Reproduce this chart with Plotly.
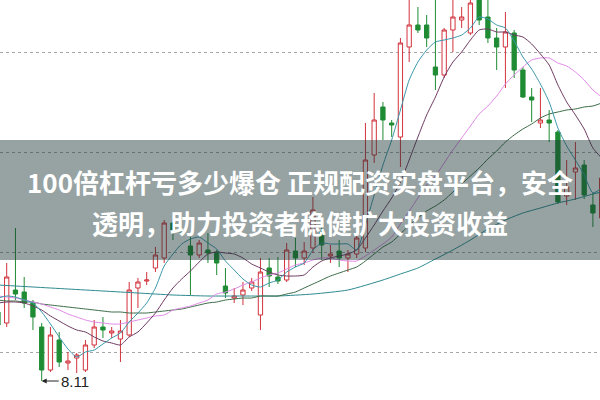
import plotly.graph_objects as go

# ---- candle data (index = trading day in view) ----
idx = list(range(70))
opens = [8.80, 8.69, 9.02, 9.00, 8.89, 8.65, 8.22, 8.52, 8.29, 8.34,
         8.22, 8.47, 8.65, 8.59, 8.53, 8.57, 9.04, 9.11, 9.24, 9.34,
         9.69, 9.62, 9.46, 9.37, 9.42, 9.40, 9.06, 8.94, 8.97, 9.04,
         8.77, 9.24, 9.15, 9.12, 9.41, 9.34, 9.44, 9.60, 9.36, 9.41,
         9.34, 9.38, 9.44, 10.37, 10.85, 10.69, 10.55, 11.45, 11.67, 11.67,
         11.25, 11.17, 11.62, 11.72, 11.59, 12.00, 11.75, 11.54, 11.45, 11.59,
         11.22, 10.95, 10.69, 10.72, 10.60, 9.96, 10.20, 10.27, 9.87, 9.74]
highs = [8.87, 9.29, 9.64, 9.15, 8.92, 8.69, 8.65, 8.60, 8.40, 8.39,
         8.52, 8.72, 8.75, 8.65, 8.72, 9.10, 9.14, 9.20, 9.45, 9.72,
         9.70, 9.64, 9.55, 9.52, 9.59, 9.42, 9.24, 9.04, 9.10, 9.14,
         9.34, 9.34, 9.35, 9.49, 9.54, 9.50, 9.95, 9.72, 9.47, 9.52,
         9.42, 9.62, 10.69, 10.99, 10.90, 10.72, 11.54, 11.95, 11.85, 11.77,
         11.97, 11.64, 11.95, 11.85, 11.97, 12.07, 11.95, 11.64, 11.80, 11.62,
         11.25, 11.04, 11.04, 10.82, 10.62, 10.32, 10.50, 10.32, 9.99, 10.20]
lows = [8.62, 8.65, 8.92, 8.84, 8.62, 8.11, 8.20, 8.25, 8.22, 8.19,
        8.20, 8.44, 8.54, 8.54, 8.30, 8.55, 8.84, 9.07, 9.20, 9.29,
        9.52, 9.57, 8.97, 9.34, 9.29, 9.17, 8.94, 8.89, 8.87, 9.01,
        8.62, 9.05, 9.08, 9.10, 9.25, 9.27, 9.39, 9.32, 9.29, 9.25,
        9.20, 9.34, 9.40, 10.29, 10.52, 10.55, 10.25, 11.30, 11.59, 11.45,
        11.02, 11.14, 11.40, 11.64, 11.57, 11.67, 11.49, 11.22, 11.04, 11.14,
        10.94, 10.70, 10.64, 10.50, 9.88, 9.87, 9.92, 9.93, 9.65, 9.70]
closes = [8.67, 9.15, 8.98, 8.89, 8.75, 8.22, 8.57, 8.30, 8.31, 8.37,
          8.47, 8.65, 8.62, 8.61, 8.61, 9.02, 9.10, 9.12, 9.37, 9.69,
          9.62, 9.60, 9.37, 9.49, 9.39, 9.29, 8.99, 8.96, 9.02, 9.10,
          9.20, 9.16, 9.11, 9.42, 9.34, 9.41, 9.82, 9.47, 9.38, 9.34,
          9.38, 9.54, 10.32, 10.72, 10.72, 10.67, 11.49, 11.67, 11.62, 11.54,
          11.17, 11.62, 11.75, 11.75, 11.89, 11.72, 11.54, 11.45, 11.60, 11.22,
          10.95, 10.92, 10.72, 10.69, 9.90, 10.05, 10.24, 9.97, 9.79, 10.14]

# ---- moving-average lines ----
ma5 = [8.94, 8.96, 8.95, 8.92, 8.89, 8.80, 8.68, 8.55, 8.43, 8.35,
       8.40, 8.42, 8.48, 8.54, 8.59, 8.70, 8.79, 8.89, 9.04, 9.26,
       9.38, 9.48, 9.53, 9.55, 9.49, 9.43, 9.31, 9.22, 9.13, 9.07,
       9.05, 9.09, 9.12, 9.20, 9.25, 9.29, 9.42, 9.49, 9.48, 9.48,
       9.48, 9.42, 9.67, 9.97, 10.27, 10.52, 10.82, 11.12, 11.30, 11.42,
       11.50, 11.52, 11.54, 11.57, 11.64, 11.75, 11.73, 11.67, 11.64, 11.51,
       11.35, 11.23, 11.08, 10.90, 10.64, 10.46, 10.32, 10.17, 9.99, 10.04]
ma10 = [8.89, 8.90, 8.90, 8.89, 8.86, 8.82, 8.76, 8.71, 8.66, 8.62,
        8.60, 8.55, 8.51, 8.49, 8.47, 8.55, 8.60, 8.69, 8.79, 8.92,
        9.04, 9.13, 9.21, 9.30, 9.38, 9.40, 9.39, 9.38, 9.34, 9.28,
        9.24, 9.20, 9.17, 9.16, 9.16, 9.17, 9.25, 9.31, 9.34, 9.36,
        9.38, 9.42, 9.54, 9.67, 9.81, 9.94, 10.10, 10.32, 10.55, 10.77,
        10.95, 11.15, 11.30, 11.40, 11.52, 11.62, 11.63, 11.60, 11.60, 11.57,
        11.55, 11.48, 11.38, 11.27, 11.07, 10.90, 10.77, 10.63, 10.44, 10.34]
ma20 = [8.96, 8.95, 8.94, 8.92, 8.90, 8.88, 8.85, 8.82, 8.78, 8.75,
        8.72, 8.70, 8.69, 8.68, 8.68, 8.70, 8.72, 8.74, 8.76, 8.77,
        8.82, 8.84, 8.86, 8.89, 8.92, 8.98, 9.00, 9.03, 9.07, 9.10,
        9.14, 9.17, 9.19, 9.23, 9.27, 9.29, 9.32, 9.34, 9.34, 9.32,
        9.31, 9.31, 9.36, 9.42, 9.48, 9.55, 9.68, 9.81, 9.94, 10.07,
        10.16, 10.29, 10.42, 10.54, 10.66, 10.78, 10.86, 10.96, 11.08, 11.17,
        11.25, 11.32, 11.34, 11.34, 11.29, 11.26, 11.20, 11.12, 11.02, 10.95]
ma30 = [8.92, 8.91, 8.91, 8.90, 8.90, 8.88, 8.87, 8.86, 8.85, 8.84,
        8.83, 8.82, 8.81, 8.80, 8.80, 8.79, 8.79, 8.79, 8.80, 8.81,
        8.82, 8.83, 8.85, 8.87, 8.89, 8.90, 8.92, 8.93, 8.94, 8.94,
        8.96, 8.96, 8.96, 8.98, 9.00, 9.04, 9.08, 9.12, 9.16, 9.19,
        9.22, 9.25, 9.31, 9.38, 9.45, 9.50, 9.58, 9.67, 9.74, 9.81,
        9.86, 9.92, 10.00, 10.08, 10.16, 10.24, 10.33, 10.41, 10.50, 10.57,
        10.63, 10.68, 10.74, 10.78, 10.80, 10.82, 10.83, 10.85, 10.86, 10.89]
ma60_idx = [0, 4, 8, 12, 16, 20, 24, 28, 32, 36, 40, 44, 46, 48, 50,
            52, 54, 56, 58, 60, 62, 64, 66, 68, 69]
ma60 = [9.07, 9.05, 9.03, 9.01, 8.99, 8.97, 8.96, 8.96, 8.96, 8.98, 9.02,
        9.12, 9.18, 9.24, 9.33, 9.42, 9.52, 9.63, 9.72, 9.79, 9.84, 9.89,
        9.93, 9.98, 10.00]

grid_levels = [8.4, 9.4, 10.4, 11.4]
low_label = "8.11"
low_index = 5
low_price = 8.11

title_line1 = "100倍杠杆亏多少爆仓 正规配资实盘平台，安全"
title_line2 = "透明，助力投资者稳健扩大投资收益"

RED = "#d2323c"
GREEN = "#1f8c34"

fig = go.Figure()

fig.add_trace(go.Candlestick(
    x=idx, open=opens, high=highs, low=lows, close=closes,
    increasing=dict(line=dict(color=RED, width=1), fillcolor="white"),
    decreasing=dict(line=dict(color=GREEN, width=1), fillcolor=GREEN),
    whiskerwidth=0, hoverinfo="skip", showlegend=False,
))

line_specs = [
    (ma60_idx, ma60, "#2c8a8f"),
    (idx, ma30, "#3b6c46"),
    (idx, ma20, "#e08ae6"),
    (idx, ma10, "#6e3a62"),
    (idx, ma5, "#3a97aa"),
]
for xs, ys, col in line_specs:
    fig.add_trace(go.Scatter(
        x=xs, y=ys, mode="lines",
        line=dict(color=col, width=1, shape="spline", smoothing=0.6),
        hoverinfo="skip", showlegend=False,
    ))

# translucent banner
fig.add_shape(type="rect", xref="paper", yref="paper",
              x0=0, x1=1, y0=0.35, y1=0.65,
              fillcolor="rgba(25,50,50,0.45)", line=dict(width=0),
              layer="above")

fig.add_annotation(xref="paper", yref="paper", x=0.5, y=1 - 181 / 400,
                   text="<b>" + title_line1 + "</b>", showarrow=False,
                   xanchor="center", yanchor="middle",
                   font=dict(family="Noto Sans CJK SC", size=26, color="white"))
fig.add_annotation(xref="paper", yref="paper", x=0.5, y=1 - 222 / 400,
                   text="<b>" + title_line2 + "</b>", showarrow=False,
                   xanchor="center", yanchor="middle",
                   font=dict(family="Noto Sans CJK SC", size=26, color="white"))

fig.add_annotation(x=low_index, y=low_price, text=low_label,
                   showarrow=True, ax=17, ay=0, xanchor="left",
                   arrowhead=2, arrowsize=1, arrowwidth=1, arrowcolor="#222",
                   standoff=0,
                   font=dict(family="Liberation Sans", size=15, color="#222"))

fig.update_layout(
    width=600, height=400,
    margin=dict(l=0, r=0, t=0, b=0),
    paper_bgcolor="white", plot_bgcolor="white",
    xaxis=dict(range=[0.234, 68.81], showgrid=False, zeroline=False,
               showticklabels=False, showline=False, fixedrange=True,
               rangeslider=dict(visible=False)),
    yaxis=dict(range=[7.92, 11.92], tickvals=grid_levels, showgrid=True,
               gridcolor="#a6a6a6", griddash="dot", gridwidth=1,
               zeroline=False, showticklabels=False, showline=False,
               fixedrange=True),
    showlegend=False,
)

fig.write_html("out.html", config={"displayModeBar": False},
               post_script="document.body.style.margin='0';"
                           "document.body.style.overflow='hidden';")
